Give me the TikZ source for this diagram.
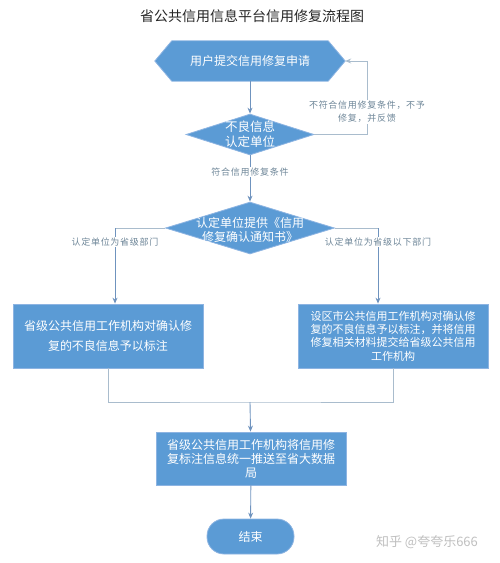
\documentclass[tikz,border=0pt]{standalone}
\usepackage{fontspec}
\setmainfont{Noto Sans CJK SC}
\newfontfamily\lblfont[LetterSpace=8]{Noto Sans CJK SC}
\usetikzlibrary{arrows.meta, calc, shapes.geometric, backgrounds}
\definecolor{boxblue}{HTML}{5B9BD5}
\definecolor{boxedge}{HTML}{8DB4E2}
\definecolor{arrowblue}{HTML}{6F93BE}
\definecolor{lightline}{HTML}{A9BCCD}
\definecolor{lbltext}{HTML}{6F8799}
\tikzset{
    boxtext/.style={text=white, font=\fontsize{12}{14}\selectfont, align=center, inner sep=0pt},
    procbox/.style={boxtext, rectangle, fill=boxblue, draw=boxedge, line width=0.8pt,
        minimum width=190, text width=180},
    decision/.style={diamond, fill=boxblue, draw=boxedge, line width=0.8pt, inner sep=0pt},
    flowarrow/.style={draw=arrowblue, line width=0.9pt, -{Stealth[length=6pt,width=5pt]}},
    feedline/.style={draw=lightline, line width=0.9pt},
    flowlabel/.style={text=lbltext, font=\lblfont\fontsize{9}{13}\selectfont, fill=white,
        inner sep=1pt, align=center}
}
\begin{document}
\begin{tikzpicture}[x=1pt, y=-1pt]
    \useasboundingbox (0,0) rectangle (500,563);

    % Title
    \node[font=\fontsize{14}{16}\selectfont, text=black!85] (title) at (252,16) {省公共信用信息平台信用修复流程图};

    % Start (hexagon)
    \node[boxtext, minimum width=190, minimum height=40] (submit) at (250,61) {用户提交信用修复申请};
    \begin{scope}[on background layer]
        \filldraw[fill=boxblue, draw=boxedge, line width=0.8pt] (submit.west)
            -- ([xshift=17]submit.north west) -- ([xshift=-17]submit.north east)
            -- (submit.east) -- ([xshift=-17]submit.south east)
            -- ([xshift=17]submit.south west) -- cycle;
    \end{scope}

    % Decisions
    \node[decision, minimum width=128, minimum height=41] (check) at (250,134.5) {};
    \node[boxtext, font=\fontsize{12.5}{15}\selectfont] (checktxt) at (check) {不良信息\\认定单位};
    \node[decision, minimum width=169, minimum height=52] (notice) at (250,228) {};
    \node[boxtext] (noticetxt) at (250,230) {认定单位提供《信用\\修复确认通知书》};

    % Process boxes
    \node[procbox, minimum height=64, font=\fontsize{12}{20}\selectfont] (provbox) at (108,336)
        {省级公共信用工作机构对确认修\\复的不良信息予以标注};
    \node[procbox, minimum height=64, font=\fontsize{11}{13.3}\selectfont] (citybox) at (393,336)
        {设区市公共信用工作机构对确认修\\复的不良信息予以标注，并将信用\\修复相关材料提交给省级公共信用\\工作机构};
    \node[procbox, minimum height=53] (push) at (251,458.5)
        {省级公共信用工作机构将信用修\\复标注信息统一推送至省大数据\\局};

    % End
    \node[boxtext, rectangle, rounded corners=17, fill=boxblue, draw=boxedge, line width=0.8pt,
        minimum width=87, minimum height=35] (finish) at (250.5,536.5) {结束};

    % Connectors
    \draw[flowarrow] (submit) -- (check);
    \coordinate (loopcorner) at (367,134.5);
    \draw[feedline, -{Stealth[length=6pt,width=5pt]}] (check.east) -- (loopcorner) |- (submit.east);
    \node[flowlabel] (refuse) at (367,112) {不符合信用修复条件，不予\\修复，并反馈};

    \draw[flowarrow] (check) -- (notice);
    \node[flowlabel] (meet) at (250,172) {符合信用修复条件};

    \draw[feedline] (notice.west) -| ([xshift=7]provbox.north |- notice.south);
    \draw[flowarrow] ([xshift=7]provbox.north |- notice.west) -- ([xshift=7]provbox.north);
    \node[flowlabel] (provlbl) at (115,242) {认定单位为省级部门};
    \draw[feedline] (notice.east) -| ([xshift=-15]citybox.north |- notice.south);
    \draw[flowarrow] ([xshift=-15]citybox.north |- notice.east) -- ([xshift=-15]citybox.north);
    \node[flowlabel] (citylbl) at (378,242) {认定单位为省级以下部门};

    \coordinate (join) at (250,402);
    \draw[feedline] (provbox.south) |- (join) -| (citybox.south);
    \draw[flowarrow] (join) -- (push);
    \draw[flowarrow] (push) -- (finish);

    % Watermark
    \node[text=black!25, font=\fontsize{13}{15}\selectfont] (mark) at (427,542) {知乎 @夸夸乐666};
\end{tikzpicture}
\end{document}
